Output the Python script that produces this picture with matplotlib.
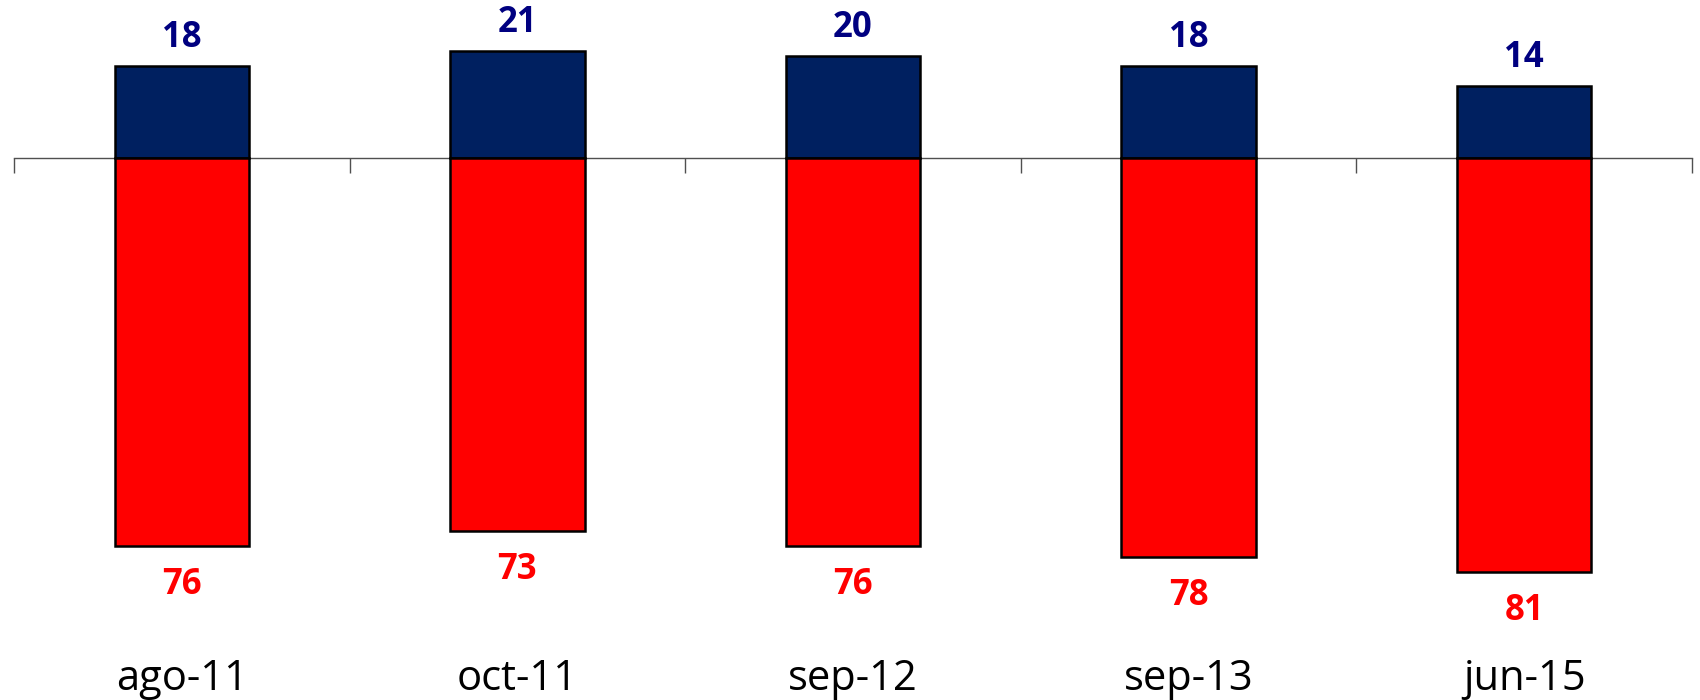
import matplotlib
matplotlib.use("Agg")
import matplotlib.pyplot as plt
import numpy as np

categories = ["ago-11", "oct-11", "sep-12", "sep-13", "jun-15"]
positive = [18, 21, 20, 18, 14]
negative = [76, 73, 76, 78, 81]

blue_fill = "#002060"
red_fill = "#FF0000"
blue_text = "#000080"
red_text = "#FF0000"

fig = plt.figure(figsize=(17, 7), dpi=100)
px_per_unit = 5.11
zero_px = 158
top = zero_px / px_per_unit
bottom = -(700 - zero_px) / px_per_unit
ax = fig.add_axes([14 / 1700, 0, 1678 / 1700, 1])
ax.set_xlim(0, len(categories))
ax.set_ylim(bottom, top)

x = np.arange(len(categories)) + 0.5
neg_vals = [-v for v in negative]
ax.bar(x, positive, width=0.4, color=blue_fill, edgecolor="black", linewidth=1.8, zorder=3)
ax.bar(x, neg_vals, width=0.4, color=red_fill, edgecolor="black", linewidth=1.8, zorder=3)

off_top = 28 / px_per_unit
off_bot = 39 / px_per_unit
for xi, p, n in zip(x, positive, negative):
    ax.text(xi, p + off_top, str(p), ha="center", va="center", fontsize=25,
            fontweight="bold", color=blue_text, family=["Open Sans", "DejaVu Sans"])
    ax.text(xi, -n - off_bot, str(n), ha="center", va="center", fontsize=25,
            fontweight="bold", color=red_text, family=["Open Sans", "DejaVu Sans"])

label_y = -(679 - zero_px) / px_per_unit
for xi, c in zip(x, categories):
    ax.text(xi, label_y, c, ha="center", va="center", fontsize=30, color="black",
            family=["Open Sans", "DejaVu Sans"])

for s in ["top", "right", "left"]:
    ax.spines[s].set_visible(False)
ax.spines["bottom"].set_position(("data", 0))
ax.spines["bottom"].set_color("#505050")
ax.spines["bottom"].set_linewidth(1.0)
ax.spines["bottom"].set_zorder(2)
ax.set_yticks([])
ax.set_xticks(np.arange(len(categories) + 1))
ax.set_xticklabels([])
ax.tick_params(axis="x", direction="out", length=11, width=1.0, color="#505050")
ax.patch.set_alpha(0)

fig.savefig("out.png", dpi=100)
